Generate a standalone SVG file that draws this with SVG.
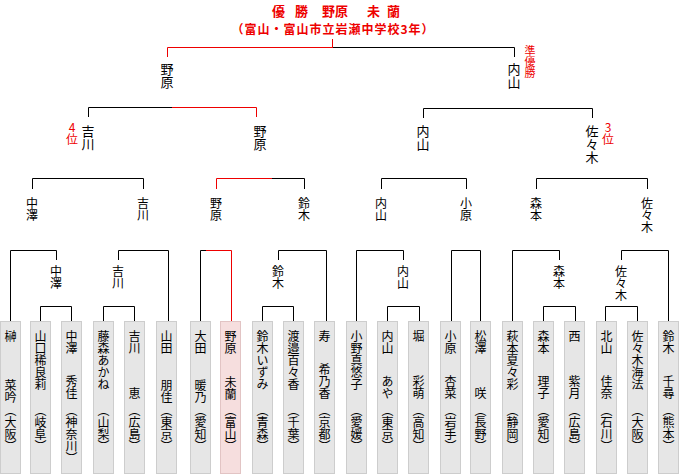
<svg xmlns="http://www.w3.org/2000/svg" width="680" height="474" viewBox="0 0 680 474">
<style>
.bg{fill:#fff}
.ln{fill:none;stroke:#000;stroke-width:1}
.rd{fill:none;stroke:#e00;stroke-width:1}
.v{writing-mode:vertical-rl;text-orientation:upright;font-family:"Noto Sans CJK JP","Noto Sans CJK SC",sans-serif;fill:#000}
.n{font-size:12px}
.l{font-size:12px}
.L{font-size:13px}
.red{fill:#e00}
.ttl{font-family:"Noto Sans CJK JP",sans-serif;font-weight:bold;fill:#e00}
.box{fill:#e6e6e6;stroke:#cdcdcd;stroke-width:1}
.win{fill:#f6dede;stroke:#e2c4c4;stroke-width:1}
.e{text-anchor:end}
</style>
<rect class="bg" x="0" y="0" width="680" height="474"/>

<g id="title">
<text class="ttl" font-size="13" y="16" x="272 285 295 308 322 335 348 367 387">優 勝　野原　未蘭</text>
<text class="ttl" font-size="12" y="34" x="333" text-anchor="middle" letter-spacing="1">（富山・富山市立岩瀬中学校3年）</text>
</g>

<g id="connectors">
<path class="rd" d="M167.5,57 V47.5 H333 M332.5,39 V47.5"/>
<path class="ln" d="M333,47.5 H514.5 V57"/>
<path class="ln" d="M88.5,117 V107.5 H172"/>
<path class="rd" d="M172,107.5 H256.5 V117"/>
<path class="ln" d="M423.5,118 V108.5 H592.5 V118"/>
<path class="ln" d="M32.5,189 V178.5 H143.5 V189"/>
<path class="rd" d="M216.5,189 V178.5 H272"/>
<path class="ln" d="M272,178.5 H304.5 V189"/>
<path class="ln" d="M381.5,189 V178.5 H466.5 V189"/>
<path class="ln" d="M536.5,189 V178.5 H647.5 V189"/>
<path class="ln" d="M10.5,321 V250.5 H56.5 V260"/>
<path class="ln" d="M40.5,321 V306.5 H71.5 V321"/>
<path class="ln" d="M103.5,321 V306.5 H134.5 V321"/>
<path class="ln" d="M118.5,260 V250.5 H168.5 V321"/>
<path class="ln" d="M200.5,321 V250.5 H206"/>
<path class="rd" d="M206,250.5 H231.5 V321"/>
<path class="ln" d="M262.5,321 V306.5 H293.5 V321"/>
<path class="ln" d="M278.5,260 V250.5 H326.5 V321"/>
<path class="ln" d="M356.5,321 V250.5 H403.5 V260"/>
<path class="ln" d="M387.5,321 V306.5 H419.5 V321"/>
<path class="ln" d="M451.5,321 V250.5 H480.5 V321"/>
<path class="ln" d="M512.5,321 V250.5 H559.5 V260"/>
<path class="ln" d="M543.5,321 V306.5 H575.5 V321"/>
<path class="ln" d="M605.5,321 V306.5 H637.5 V321"/>
<path class="ln" d="M621.5,260 V250.5 H668.5 V321"/>
</g>

<g id="final-labels">
<text class="v L" x="167" y="63">野原</text>
<text class="v L" x="514" y="63">内山</text>
<text class="v red" font-size="11" x="530" y="45">準優勝</text>
</g>
<g id="semi-labels">
<text class="v L" x="88" y="125">吉川</text>
<text class="v l red" x="72" y="121">4位</text>
<text class="v L" x="260" y="125">野原</text>
<text class="v L" x="423" y="125">内山</text>
<text class="v L" x="592" y="125">佐々木</text>
<text class="v l red" x="608" y="121">3位</text>
</g>
<g id="qf-labels">
<text class="v l" x="32" y="197">中澤</text>
<text class="v l" x="143" y="197">吉川</text>
<text class="v l" x="216" y="197">野原</text>
<text class="v l" x="304" y="197">鈴木</text>
<text class="v l" x="381" y="197">内山</text>
<text class="v l" x="466" y="197">小原</text>
<text class="v l" x="536" y="197">森本</text>
<text class="v l" x="647" y="197">佐々木</text>
</g>
<g id="r2-labels">
<text class="v l" x="56" y="265">中澤</text>
<text class="v l" x="118" y="265">吉川</text>
<text class="v l" x="278" y="265">鈴木</text>
<text class="v l" x="403" y="265">内山</text>
<text class="v l" x="559" y="265">森本</text>
<text class="v l" x="621" y="265">佐々木</text>
</g>

<g id="p1"><rect class="box" x="0.5" y="321.5" width="20" height="152"/><text class="v n" x="10.5" y="330">榊</text><text class="v n e" x="10.5" y="403">菜吟</text><text class="v n" x="10.5" y="404">（大阪）</text></g>
<g id="p2"><rect class="box" x="30.5" y="321.5" width="20" height="152"/><text class="v n" x="40.5" y="330">山口稀良莉</text><text class="v n" x="40.5" y="404">（岐阜）</text></g>
<g id="p3"><rect class="box" x="61.5" y="321.5" width="20" height="152"/><text class="v n" x="71.5" y="330">中澤</text><text class="v n e" x="71.5" y="399">秀佳</text><text class="v n" x="71.5" y="404">（神奈川）</text></g>
<g id="p4"><rect class="box" x="93.5" y="321.5" width="20" height="152"/><text class="v n" x="103.5" y="330">藤森あかね</text><text class="v n" x="103.5" y="404">（山梨）</text></g>
<g id="p5"><rect class="box" x="124.5" y="321.5" width="20" height="152"/><text class="v n" x="134.5" y="330">吉川</text><text class="v n e" x="134.5" y="399">恵</text><text class="v n" x="134.5" y="404">（広島）</text></g>
<g id="p6"><rect class="box" x="156.5" y="321.5" width="20" height="152"/><text class="v n" x="166.5" y="330">山田</text><text class="v n e" x="166.5" y="403">朋佳</text><text class="v n" x="166.5" y="404">（東京）</text></g>
<g id="p7"><rect class="box" x="190.5" y="321.5" width="20" height="152"/><text class="v n" x="200.5" y="330">大田</text><text class="v n e" x="200.5" y="403">暖乃</text><text class="v n" x="200.5" y="404">（愛知）</text></g>
<g id="p8"><rect class="win" x="220.5" y="321.5" width="20" height="152"/><text class="v n" x="230.5" y="330">野原</text><text class="v n e" x="230.5" y="400">未蘭</text><text class="v n" x="230.5" y="404">（富山）</text></g>
<g id="p9"><rect class="box" x="252.5" y="321.5" width="20" height="152"/><text class="v n" x="262.5" y="330">鈴木いずみ</text><text class="v n" x="262.5" y="404">（青森）</text></g>
<g id="p10"><rect class="box" x="283.5" y="321.5" width="20" height="152"/><text class="v n" x="293.5" y="330">渡邉百々香</text><text class="v n" x="293.5" y="404">（千葉）</text></g>
<g id="p11"><rect class="box" x="314.5" y="321.5" width="20" height="152"/><text class="v n" x="324.5" y="330">寿</text><text class="v n e" x="324.5" y="399">希乃香</text><text class="v n" x="324.5" y="404">（京都）</text></g>
<g id="p12"><rect class="box" x="346.5" y="321.5" width="20" height="152"/><text class="v n" x="356.5" y="330">小野真悠子</text><text class="v n" x="356.5" y="404">（愛媛）</text></g>
<g id="p13"><rect class="box" x="377.5" y="321.5" width="20" height="152"/><text class="v n" x="387.5" y="330">内山</text><text class="v n e" x="387.5" y="399">あや</text><text class="v n" x="387.5" y="404">（東京）</text></g>
<g id="p14"><rect class="box" x="408.5" y="321.5" width="20" height="152"/><text class="v n" x="418.5" y="330">堀</text><text class="v n e" x="418.5" y="399">彩萌</text><text class="v n" x="418.5" y="404">（高知）</text></g>
<g id="p15"><rect class="box" x="440.5" y="321.5" width="20" height="152"/><text class="v n" x="450.5" y="330">小原</text><text class="v n e" x="450.5" y="399">杏菜</text><text class="v n" x="450.5" y="404">（岩手）</text></g>
<g id="p16"><rect class="box" x="470.5" y="321.5" width="20" height="152"/><text class="v n" x="480.5" y="330">松澤</text><text class="v n e" x="480.5" y="399">咲</text><text class="v n" x="480.5" y="404">（長野）</text></g>
<g id="p17"><rect class="box" x="502.5" y="321.5" width="20" height="152"/><text class="v n" x="512.5" y="330">萩本夏々彩</text><text class="v n" x="512.5" y="404">（静岡）</text></g>
<g id="p18"><rect class="box" x="533.5" y="321.5" width="20" height="152"/><text class="v n" x="543.5" y="330">森本</text><text class="v n e" x="543.5" y="399">理子</text><text class="v n" x="543.5" y="404">（愛知）</text></g>
<g id="p19"><rect class="box" x="564.5" y="321.5" width="20" height="152"/><text class="v n" x="574.5" y="330">西</text><text class="v n e" x="574.5" y="399">紫月</text><text class="v n" x="574.5" y="404">（広島）</text></g>
<g id="p20"><rect class="box" x="596.5" y="321.5" width="20" height="152"/><text class="v n" x="606.5" y="330">北山</text><text class="v n e" x="606.5" y="399">佳奈</text><text class="v n" x="606.5" y="404">（石川）</text></g>
<g id="p21"><rect class="box" x="627.5" y="321.5" width="20" height="152"/><text class="v n" x="637.5" y="330">佐々木海法</text><text class="v n" x="637.5" y="404">（大阪）</text></g>
<g id="p22"><rect class="box" x="658.5" y="321.5" width="20" height="152"/><text class="v n" x="668.5" y="330">鈴木</text><text class="v n e" x="668.5" y="399">千尋</text><text class="v n" x="668.5" y="404">（熊本）</text></g>
</svg>
